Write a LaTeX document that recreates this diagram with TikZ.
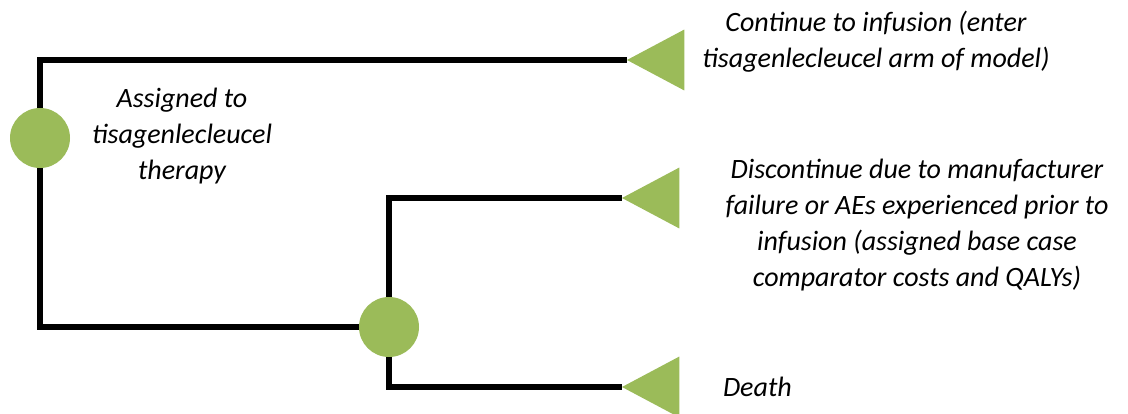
\documentclass[tikz,border=0pt]{standalone}
\usepackage{fontspec}
\setmainfont{Carlito}
\usepackage{tikz}
\usetikzlibrary{shapes.geometric}
\definecolor{leafgreen}{HTML}{9BBB59}

\begin{document}
\begin{tikzpicture}[x=0.75pt,y=-0.75pt,line width=4.5pt]
  \tikzstyle{chance}=[circle, fill=leafgreen, inner sep=0pt, outer sep=0pt, minimum size=45pt]
  \tikzstyle{term}=[isosceles triangle, isosceles triangle apex angle=56, shape border rotate=180, fill=leafgreen, inner sep=0pt, outer sep=0pt, minimum height=43pt]
  \tikzstyle{lbl}=[align=center, font=\fontsize{21}{27}\selectfont\itshape, inner sep=0pt]
  \useasboundingbox (0,0) rectangle (1128,414);

  \node[term, anchor=apex] (t1) at (627,60) {};
  \node[term, anchor=apex] (t2) at (622,198) {};
  \node[term, anchor=apex] (t3) at (622,387) {};
  \coordinate (c1) at (40,138);
  \coordinate (c2) at (389,327);

  \draw (c1) |- (t1.apex);
  \draw (c1) |- (c2);
  \draw (c2) |- (t2.apex);
  \draw (c2) |- (t3.apex);

  \node[chance] (1) at (c1) {};
  \node[chance] (2) at (c2) {};

  \node[lbl] (a) at (182,136) {Assigned to\\tisagenlecleucel\\therapy};
  \node[lbl] (b) at (876,42) {Continue to infusion (enter\\tisagenlecleucel arm of model)};
  \node[lbl] (c) at (917,225) {Discontinue due to manufacturer\\failure or AEs experienced prior to\\infusion (assigned base case\\comparator costs and QALYs)};
  \node[lbl, anchor=west] (d) at (720,387) {Death};
\end{tikzpicture}
\end{document}
